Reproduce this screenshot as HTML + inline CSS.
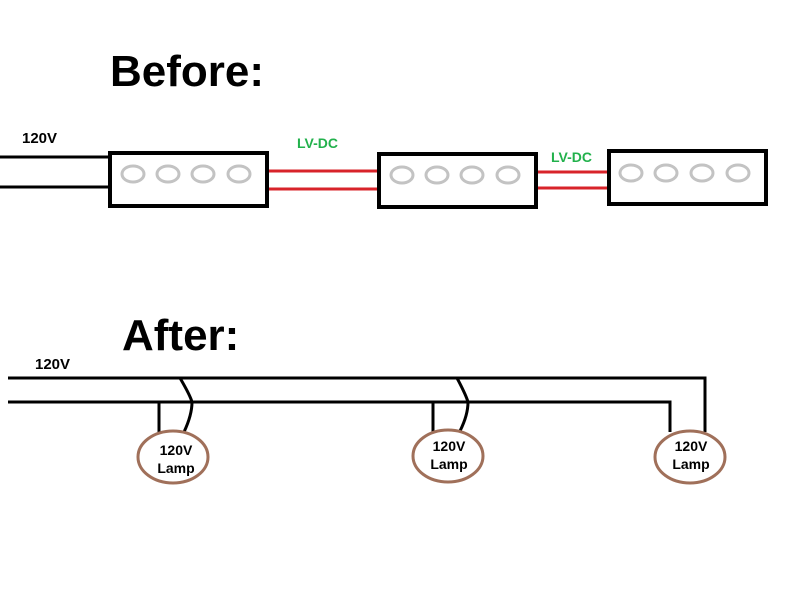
<!DOCTYPE html>
<html><head><style>html,body{margin:0;padding:0;background:#fff;}svg{display:block}</style></head>
<body>
<svg width="800" height="600" viewBox="0 0 800 600" xmlns="http://www.w3.org/2000/svg" font-family="Liberation Sans, sans-serif" font-weight="bold">
<rect width="800" height="600" fill="#fff"/>
<text x="110" y="86" font-size="44">Before:</text>
<text x="22" y="143" font-size="15">120V</text>
<text x="297" y="148" font-size="14" fill="#22b14c">LV-DC</text>
<text x="551" y="162" font-size="14" fill="#22b14c">LV-DC</text>
<g stroke="#000" stroke-width="3">
<line x1="0" y1="157" x2="110" y2="157"/>
<line x1="0" y1="187" x2="110" y2="187"/>
</g>
<g stroke="#d8232a" stroke-width="3">
<line x1="268" y1="171" x2="378" y2="171"/>
<line x1="268" y1="189" x2="378" y2="189"/>
<line x1="537" y1="172" x2="608" y2="172"/>
<line x1="537" y1="188" x2="608" y2="188"/>
</g>
<g fill="none" stroke="#000" stroke-width="4">
<rect x="110" y="153" width="157" height="53"/>
<rect x="379" y="154" width="157" height="53"/>
<rect x="609" y="151" width="157" height="53"/>
</g>
<g fill="none" stroke="#c3c3c3" stroke-width="3">
<ellipse cx="133" cy="174" rx="11" ry="8"/><ellipse cx="168" cy="174" rx="11" ry="8"/><ellipse cx="203" cy="174" rx="11" ry="8"/><ellipse cx="239" cy="174" rx="11" ry="8"/>
<ellipse cx="402" cy="175" rx="11" ry="8"/><ellipse cx="437" cy="175" rx="11" ry="8"/><ellipse cx="472" cy="175" rx="11" ry="8"/><ellipse cx="508" cy="175" rx="11" ry="8"/>
<ellipse cx="631" cy="173" rx="11" ry="8"/><ellipse cx="666" cy="173" rx="11" ry="8"/><ellipse cx="702" cy="173" rx="11" ry="8"/><ellipse cx="738" cy="173" rx="11" ry="8"/>
</g>
<text x="122" y="350" font-size="44">After:</text>
<text x="35" y="369" font-size="15">120V</text>
<g fill="none" stroke="#000" stroke-width="3">
<polyline points="8,378 705,378 705,432"/>
<polyline points="8,402 670,402 670,432"/>
<line x1="159" y1="402" x2="159" y2="434"/>
<path d="M180,378 Q190,395 192,402 Q192,415 184,432"/>
<line x1="433" y1="402" x2="433" y2="433"/>
<path d="M457,378 Q466,395 468,402 Q468,415 460,431"/>
</g>
<g fill="none" stroke="#a0705a" stroke-width="3">
<ellipse cx="173" cy="457" rx="35" ry="26"/>
<ellipse cx="448" cy="456" rx="35" ry="26"/>
<ellipse cx="690" cy="457" rx="35" ry="26"/>
</g>
<g font-size="14" text-anchor="middle">
<text x="176" y="455">120V</text><text x="176" y="473">Lamp</text>
<text x="449" y="451">120V</text><text x="449" y="469">Lamp</text>
<text x="691" y="451">120V</text><text x="691" y="469">Lamp</text>
</g>
</svg>
</body></html>
